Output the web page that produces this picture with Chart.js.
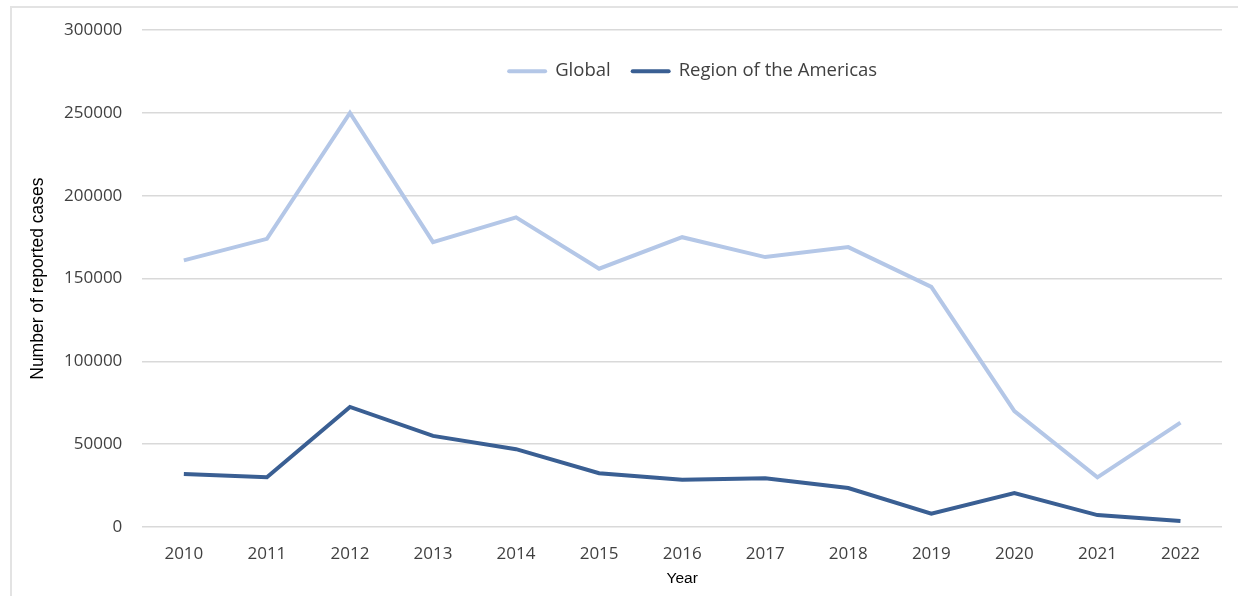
<!DOCTYPE html>
<html>
<head>
<meta charset="utf-8">
<script src="https://cdn.jsdelivr.net/npm/chart.js@4.4.1/dist/chart.umd.min.js"></script>
<style>
  html, body { margin: 0; padding: 0; background: #ffffff; width: 1238px; height: 596px; overflow: hidden; }
  #frame { position: absolute; left: 10px; top: 6px; width: 1240px; height: 600px; border: 2px solid #e3e3e3; box-sizing: border-box; }
  #wrap { position: absolute; left: 0; top: 0; width: 1238px; height: 596px; }
</style>
</head>
<body>
<div id="frame"></div>
<div id="wrap"><canvas id="c"></canvas></div>
<script>
const years = ['2010','2011','2012','2013','2014','2015','2016','2017','2018','2019','2020','2021','2022'];
const globalCases = [161000, 174000, 250000, 172000, 187000, 156000, 175000, 163000, 169000, 145000, 70000, 30000, 63000];
const americasCases = [32000, 30000, 72500, 55000, 47000, 32500, 28500, 29500, 23500, 8000, 20500, 7200, 3600];
const yTicks = [0, 50000, 100000, 150000, 200000, 250000, 300000];

const FONT = "'Open Sans', sans-serif";
const TITLE_FONT = "'Liberation Sans', Arial, sans-serif";

const topLegend = {
  id: 'topLegend',
  afterDraw(chart) {
    const ctx = chart.ctx;
    const area = chart.chartArea;
    const sampleW = 40, gapText = 8, gapItem = 20;
    ctx.save();
    ctx.font = "18.5px " + FONT;
    ctx.textBaseline = 'middle';
    const items = chart.data.datasets.map(ds => ({
      text: ds.label, color: ds.borderColor, w: sampleW + gapText + ctx.measureText(ds.label).width
    }));
    const total = items.reduce((s, it) => s + it.w, 0) + gapItem * (items.length - 1);
    let x = (area.left + area.right) / 2 + 10 - total / 2;
    const y = area.top + 41;
    items.forEach(it => {
      ctx.strokeStyle = it.color;
      ctx.lineWidth = 4;
      ctx.lineCap = 'round';
      ctx.beginPath();
      ctx.moveTo(x + 2, y);
      ctx.lineTo(x + sampleW - 2, y);
      ctx.stroke();
      ctx.fillStyle = '#404040';
      ctx.textAlign = 'left';
      ctx.fillText(it.text, x + sampleW + gapText, y);
      x += it.w + gapItem;
    });
    ctx.restore();
  }
};

new Chart(document.getElementById('c'), {
  type: 'line',
  data: {
    labels: years,
    datasets: [
      { label: 'Global', data: globalCases, borderColor: '#b4c7e7', backgroundColor: '#b4c7e7', borderWidth: 4, pointRadius: 0, tension: 0 },
      { label: 'Region of the Americas', data: americasCases, borderColor: '#3a5f93', backgroundColor: '#3a5f93', borderWidth: 4, pointRadius: 0, tension: 0 }
    ]
  },
  plugins: [topLegend],
  options: {
    responsive: true,
    maintainAspectRatio: false,
    animation: false,
    layout: { padding: { top: 21, right: 16, bottom: 8, left: 23 } },
    plugins: {
      legend: { display: false },
      tooltip: { enabled: false }
    },
    scales: {
      x: {
        offset: true,
        grid: { display: false, drawTicks: false },
        border: { display: false },
        ticks: { color: '#404040', font: { family: FONT, size: 17 }, padding: 17, maxRotation: 0 },
        title: { display: true, text: 'Year', color: '#000000', font: { family: TITLE_FONT, size: 15.5 }, padding: { top: -12, bottom: 0 } }
      },
      y: {
        min: 0,
        max: 300000,
        afterBuildTicks: (axis) => { axis.ticks = yTicks.map(v => ({ value: v })); },
        grid: { color: '#d9d9d9', lineWidth: 1.5, drawTicks: false },
        border: { display: false },
        ticks: { color: '#404040', font: { family: FONT, size: 17 }, padding: 20, callback: (v) => String(v) },
        title: { display: true, text: 'Number of reported cases', color: '#000000', font: { family: TITLE_FONT, size: 17.5 }, padding: { top: 5, bottom: -5 } }
      }
    }
  }
});
</script>
</body>
</html>
